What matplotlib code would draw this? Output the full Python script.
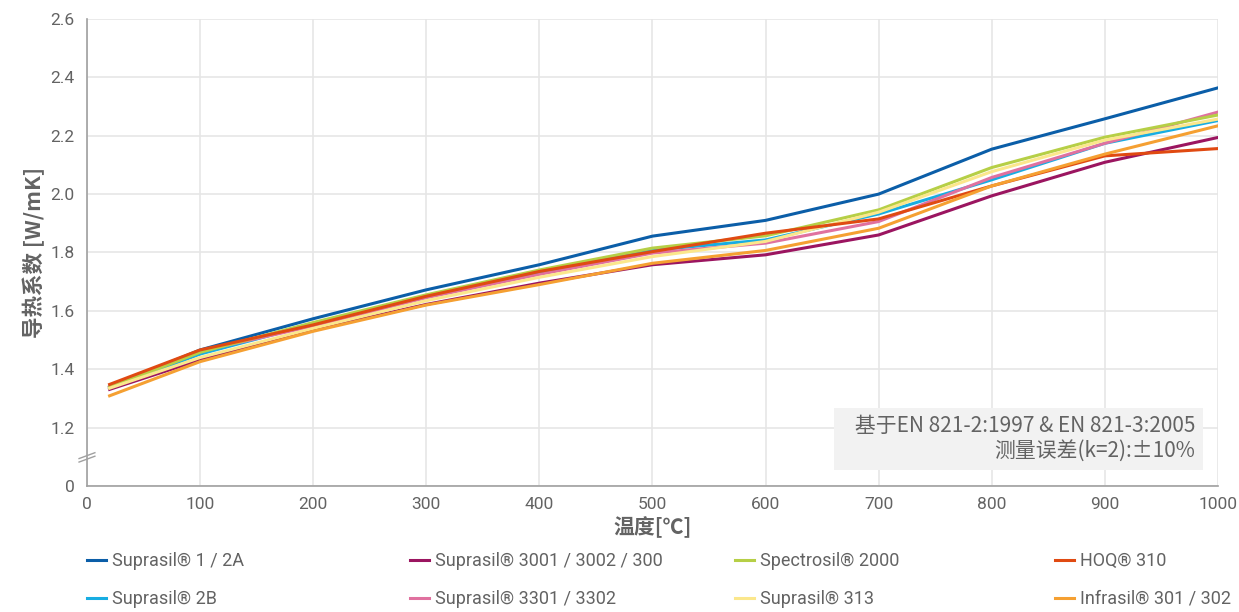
import matplotlib
matplotlib.use('Agg')
import matplotlib.pyplot as plt

# temperatures [°C]
temps = [20, 100, 200, 300, 400, 500, 600, 700, 800, 900, 1000]

# thermal conductivity [W/mK]
suprasil_1_2a = [1.340, 1.466, 1.573, 1.672, 1.758, 1.856, 1.910, 2.000, 2.154, 2.258, 2.364]
suprasil_2b = [1.335, 1.452, 1.555, 1.648, 1.730, 1.808, 1.843, 1.932, 2.049, 2.174, 2.252]
suprasil_3001 = [1.331, 1.432, 1.535, 1.622, 1.695, 1.758, 1.792, 1.860, 1.994, 2.109, 2.194]
suprasil_3301 = [1.338, 1.462, 1.548, 1.645, 1.725, 1.798, 1.832, 1.906, 2.057, 2.174, 2.281]
spectrosil_2000 = [1.338, 1.458, 1.560, 1.655, 1.740, 1.815, 1.857, 1.946, 2.091, 2.195, 2.271]
suprasil_313 = [1.335, 1.440, 1.540, 1.635, 1.715, 1.786, 1.838, 1.938, 2.077, 2.185, 2.257]
hoq_310 = [1.348, 1.466, 1.552, 1.650, 1.735, 1.803, 1.866, 1.915, 2.028, 2.131, 2.156]
infrasil_301 = [1.309, 1.426, 1.530, 1.620, 1.690, 1.763, 1.807, 1.883, 2.028, 2.137, 2.234]

labels = ['Suprasil® 1 / 2A', 'Suprasil® 2B', 'Suprasil® 3001 / 3002 / 300',
          'Suprasil® 3301 / 3302', 'Spectrosil® 2000', 'Suprasil® 313',
          'HOQ® 310', 'Infrasil® 301 / 302']
series = [suprasil_1_2a, suprasil_2b, suprasil_3001, suprasil_3301,
          spectrosil_2000, suprasil_313, hoq_310, infrasil_301]
colors = ['#0b5ea8', '#17ade2', '#9b1560', '#e0719f',
          '#b6cf46', '#fbe78c', '#e04a12', '#f5a032']

# y axis has a break: the bottom tick (drawn at 1.0) is labelled 0
ytick_pos = [1.0, 1.2, 1.4, 1.6, 1.8, 2.0, 2.2, 2.4, 2.6]
ytick_lbl = ['0', '1.2', '1.4', '1.6', '1.8', '2.0', '2.2', '2.4', '2.6']
xticks = [0, 100, 200, 300, 400, 500, 600, 700, 800, 900, 1000]

cjk = ['Noto Sans CJK SC', 'DejaVu Sans']
narrow = ['Roboto', 'DejaVu Sans']
grey = '#636363'

fig = plt.figure(figsize=(12.39, 6.12), dpi=100)
ax = fig.add_axes([0.0702, 0.2059, 0.9128, 0.7631])

lines = []
for y, lab, col in zip(series, labels, colors):
    ln, = ax.plot(temps, y, color=col, lw=2.2, label=lab)
    lines.append(ln)

ax.set_xlim(0, 1000)
ax.set_ylim(1.0, 2.6)
ax.set_xticks(xticks)
ax.set_yticks(ytick_pos)
ax.set_yticklabels(ytick_lbl)
ax.grid(True, color='#e6e6e6', lw=1.2)
ax.set_axisbelow(True)
for s in ['top', 'right']:
    ax.spines[s].set_visible(False)
for s in ['left', 'bottom']:
    ax.spines[s].set_color('#a0a0a0')
    ax.spines[s].set_linewidth(1.2)
ax.tick_params(length=0, labelsize=12.5, labelcolor=grey)
ax.tick_params(axis='x', pad=8)
ax.tick_params(axis='y', pad=9)
for t in ax.get_xticklabels() + ax.get_yticklabels():
    t.set_family(narrow)

ax.set_xlabel('温度[℃]', family=cjk, fontsize=15, fontweight='bold', color=grey)
ax.set_ylabel('导热系数 [W/mK]', family=cjk, fontsize=15.5, fontweight='bold', color=grey)
ax.xaxis.set_label_coords(0.5, -0.064)
ax.yaxis.set_label_coords(-0.037, 0.5)

# axis break marks
for dy in [-0.006, 0.006]:
    ax.plot([-7, 7], [1.088 + dy, 1.108 + dy], color='#a0a0a0', lw=1.0, clip_on=False)

ax.text(0.98, 0.05, '   基于EN 821-2:1997 & EN 821-3:2005\n测量误差(k=2):±10%',
        transform=ax.transAxes, ha='right', va='bottom', family=cjk, fontsize=15,
        color=grey, linespacing=1.2,
        bbox=dict(boxstyle='square,pad=0.35', fc='#f2f2f2', ec='none'))

# legend: four columns of two entries
col_x = [87, 410, 735, 1055]
for i, cx in enumerate(col_x):
    leg = fig.legend(lines[2 * i:2 * i + 2], labels[2 * i:2 * i + 2],
                     loc='upper left', bbox_to_anchor=(cx / 1239, 1 - 552 / 612),
                     frameon=False, prop={'family': narrow, 'size': 13},
                     labelcolor=grey, handlelength=1.05, handletextpad=0.35,
                     borderpad=0, borderaxespad=0, labelspacing=1.1)

plt.savefig('out.png', dpi=100)
